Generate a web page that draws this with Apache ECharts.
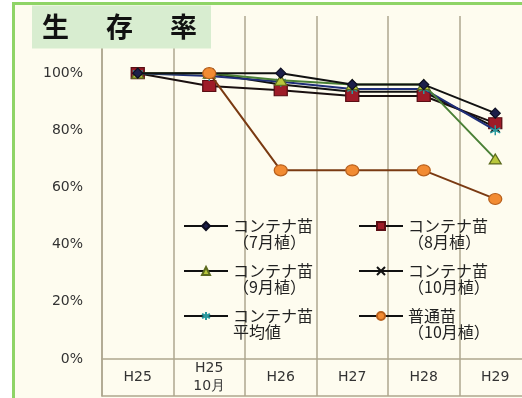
<!DOCTYPE html>
<html>
<head>
<meta charset="utf-8">
<script src="https://cdn.jsdelivr.net/npm/echarts@6/dist/echarts.min.js"></script>
<style>
  html, body { margin: 0; padding: 0; background: #ffffff; }
  #frame { position: absolute; left: 12px; top: 2px; width: 520px; height: 400px;
           border-left: 3px solid #8fd466; border-top: 3px solid #8fd466; background: #fefcef; }
  #chart { position: absolute; left: 0; top: 0; width: 522px; height: 398px; }
</style>
</head>
<body>
<div id="frame"></div>
<div id="chart"></div>
<script>
// ---- data ----
const categories = ['H25', 'H25\n10月', 'H26', 'H27', 'H28', 'H29'];
const yTicks = [0, 20, 40, 60, 80, 100];
const seriesNames = [
  'コンテナ苗\n（7月植）',
  'コンテナ苗\n（8月植）',
  'コンテナ苗\n（9月植）',
  'コンテナ苗\n（10月植）',
  'コンテナ苗\n平均値',
  '普通苗\n（10月植）'
];
const jul = [100, 100, 100, 96, 96, 86];
const aug = [100, 95.5, 94, 92, 92, 82.5];
const sep = [100, 100, 97.5, 96, 96, 70];
const oct = [null, 100, 96, 93.5, 93.5, 81];
const avg = [100, 99, 97, 94.5, 94.5, 80];
const normal = [null, 100, 66, 66, 66, 56];

const gridColor = '#aea78f';
const chart = echarts.init(document.getElementById('chart'), null, { renderer: 'canvas' });

function mk(name, data, lineColor, symbol, size, fill, border, z) {
  return {
    name: name, type: 'line', data: data, z: z,
    xAxisIndex: 0, yAxisIndex: 0,
    symbol: symbol, symbolSize: size,
    lineStyle: { color: lineColor, width: 2 },
    itemStyle: { color: fill, borderColor: border, borderWidth: 1.2 },
    emphasis: { disabled: true },
    animation: false
  };
}

const legendText = { color: '#222', fontSize: 16, lineHeight: 16,
  fontFamily: 'Noto Sans CJK JP' };
const legendFmt = function (name) { return ' \n' + name; };
const gl = { color: gridColor, width: 1.5 };

chart.setOption({
  backgroundColor: 'transparent',
  animation: false,
  title: {
    left: 32, top: 11,
    backgroundColor: '#d8edd0',
    padding: [3, 14, 3, 10],
    text: '{a|生}{g|　}{a|存}{g|　}{a|率}',
    textStyle: {
      rich: {
        a: { fontSize: 27, lineHeight: 26, color: '#111', fontWeight: 'bold', fontFamily: 'Noto Sans CJK JP' },
        g: { fontSize: 37, lineHeight: 26, fontFamily: 'Noto Sans CJK JP' }
      }
    }
  },
  grid: [
    { left: 102, right: -9, top: 16, bottom: 39, containLabel: false, outerBoundsMode: 'none' },
    { left: 102, right: -9, top: 359, bottom: 2, containLabel: false, outerBoundsMode: 'none' }
  ],
  xAxis: [
    {
      gridIndex: 0, type: 'category', data: categories, boundaryGap: true, position: 'bottom',
      axisLine: { show: true, onZero: false, lineStyle: gl },
      axisTick: { show: false },
      splitLine: { show: true, interval: 0, lineStyle: gl },
      axisLabel: { interval: 0, margin: 18, verticalAlign: 'middle', lineHeight: 18,
        color: '#333', fontSize: 14, fontFamily: 'DejaVu Sans' }
    },
    {
      gridIndex: 1, type: 'category', data: categories, boundaryGap: true, position: 'bottom',
      axisLine: { show: true, onZero: false, lineStyle: gl },
      axisTick: { show: false }, axisLabel: { show: false },
      splitLine: { show: true, interval: 0, lineStyle: gl }
    }
  ],
  yAxis: [
    {
      gridIndex: 0, type: 'value', min: 0, max: 120,
      axisLine: { show: true, lineStyle: gl },
      axisTick: { show: false },
      splitLine: { show: false },
      axisLabel: { customValues: yTicks, formatter: '{value}%', margin: 19,
        color: '#333', fontSize: 14, fontFamily: 'DejaVu Sans' }
    },
    {
      gridIndex: 1, type: 'value', min: 0, max: 1,
      axisLine: { show: true, lineStyle: gl },
      axisTick: { show: false }, axisLabel: { show: false }, splitLine: { show: false }
    }
  ],
  legend: [
    {
      orient: 'vertical', left: 178, top: 197, itemWidth: 44, itemHeight: 10, itemGap: -3,
      data: [seriesNames[0], seriesNames[2], seriesNames[4]],
      formatter: legendFmt,
      lineStyle: { color: '#111', width: 2 },
      textStyle: legendText, selectedMode: false
    },
    {
      orient: 'vertical', left: 353, top: 197, itemWidth: 44, itemHeight: 10, itemGap: -3,
      data: [seriesNames[1], seriesNames[3], seriesNames[5]],
      formatter: legendFmt,
      lineStyle: { color: '#111', width: 2 },
      textStyle: legendText, selectedMode: false
    }
  ],
  series: [
    mk(seriesNames[0], jul, '#111111', 'diamond', [10, 10], '#1c1f4a', '#0d0d20', 6),
    mk(seriesNames[1], aug, '#1a1010', 'rect', [13, 11], '#9e1c28', '#5a0e14', 3),
    mk(seriesNames[2], sep, '#4a8036', 'triangle', [12, 10], '#b9c73c', '#5c6a1e', 5),
    Object.assign(mk(seriesNames[3], oct, '#111111', 'path://M0,0L10,10M10,0L0,10', [9, 9], 'none', '#111111', 2),
      { itemStyle: { color: '#111', borderColor: '#111', borderWidth: 1.5 } }),
    Object.assign(mk(seriesNames[4], avg, '#1f2e78', 'path://M5,0L5,10M0,2.5L10,7.5M0,7.5L10,2.5', [10, 10], 'none', '#2a9a9e', 4),
      { itemStyle: { color: '#2a9a9e', borderColor: '#2a9a9e', borderWidth: 1.5 } }),
    mk(seriesNames[5], normal, '#7a3a12', 'circle', [13, 11], '#f28b32', '#b8601c', 7)
  ]
});
</script>
</body>
</html>
